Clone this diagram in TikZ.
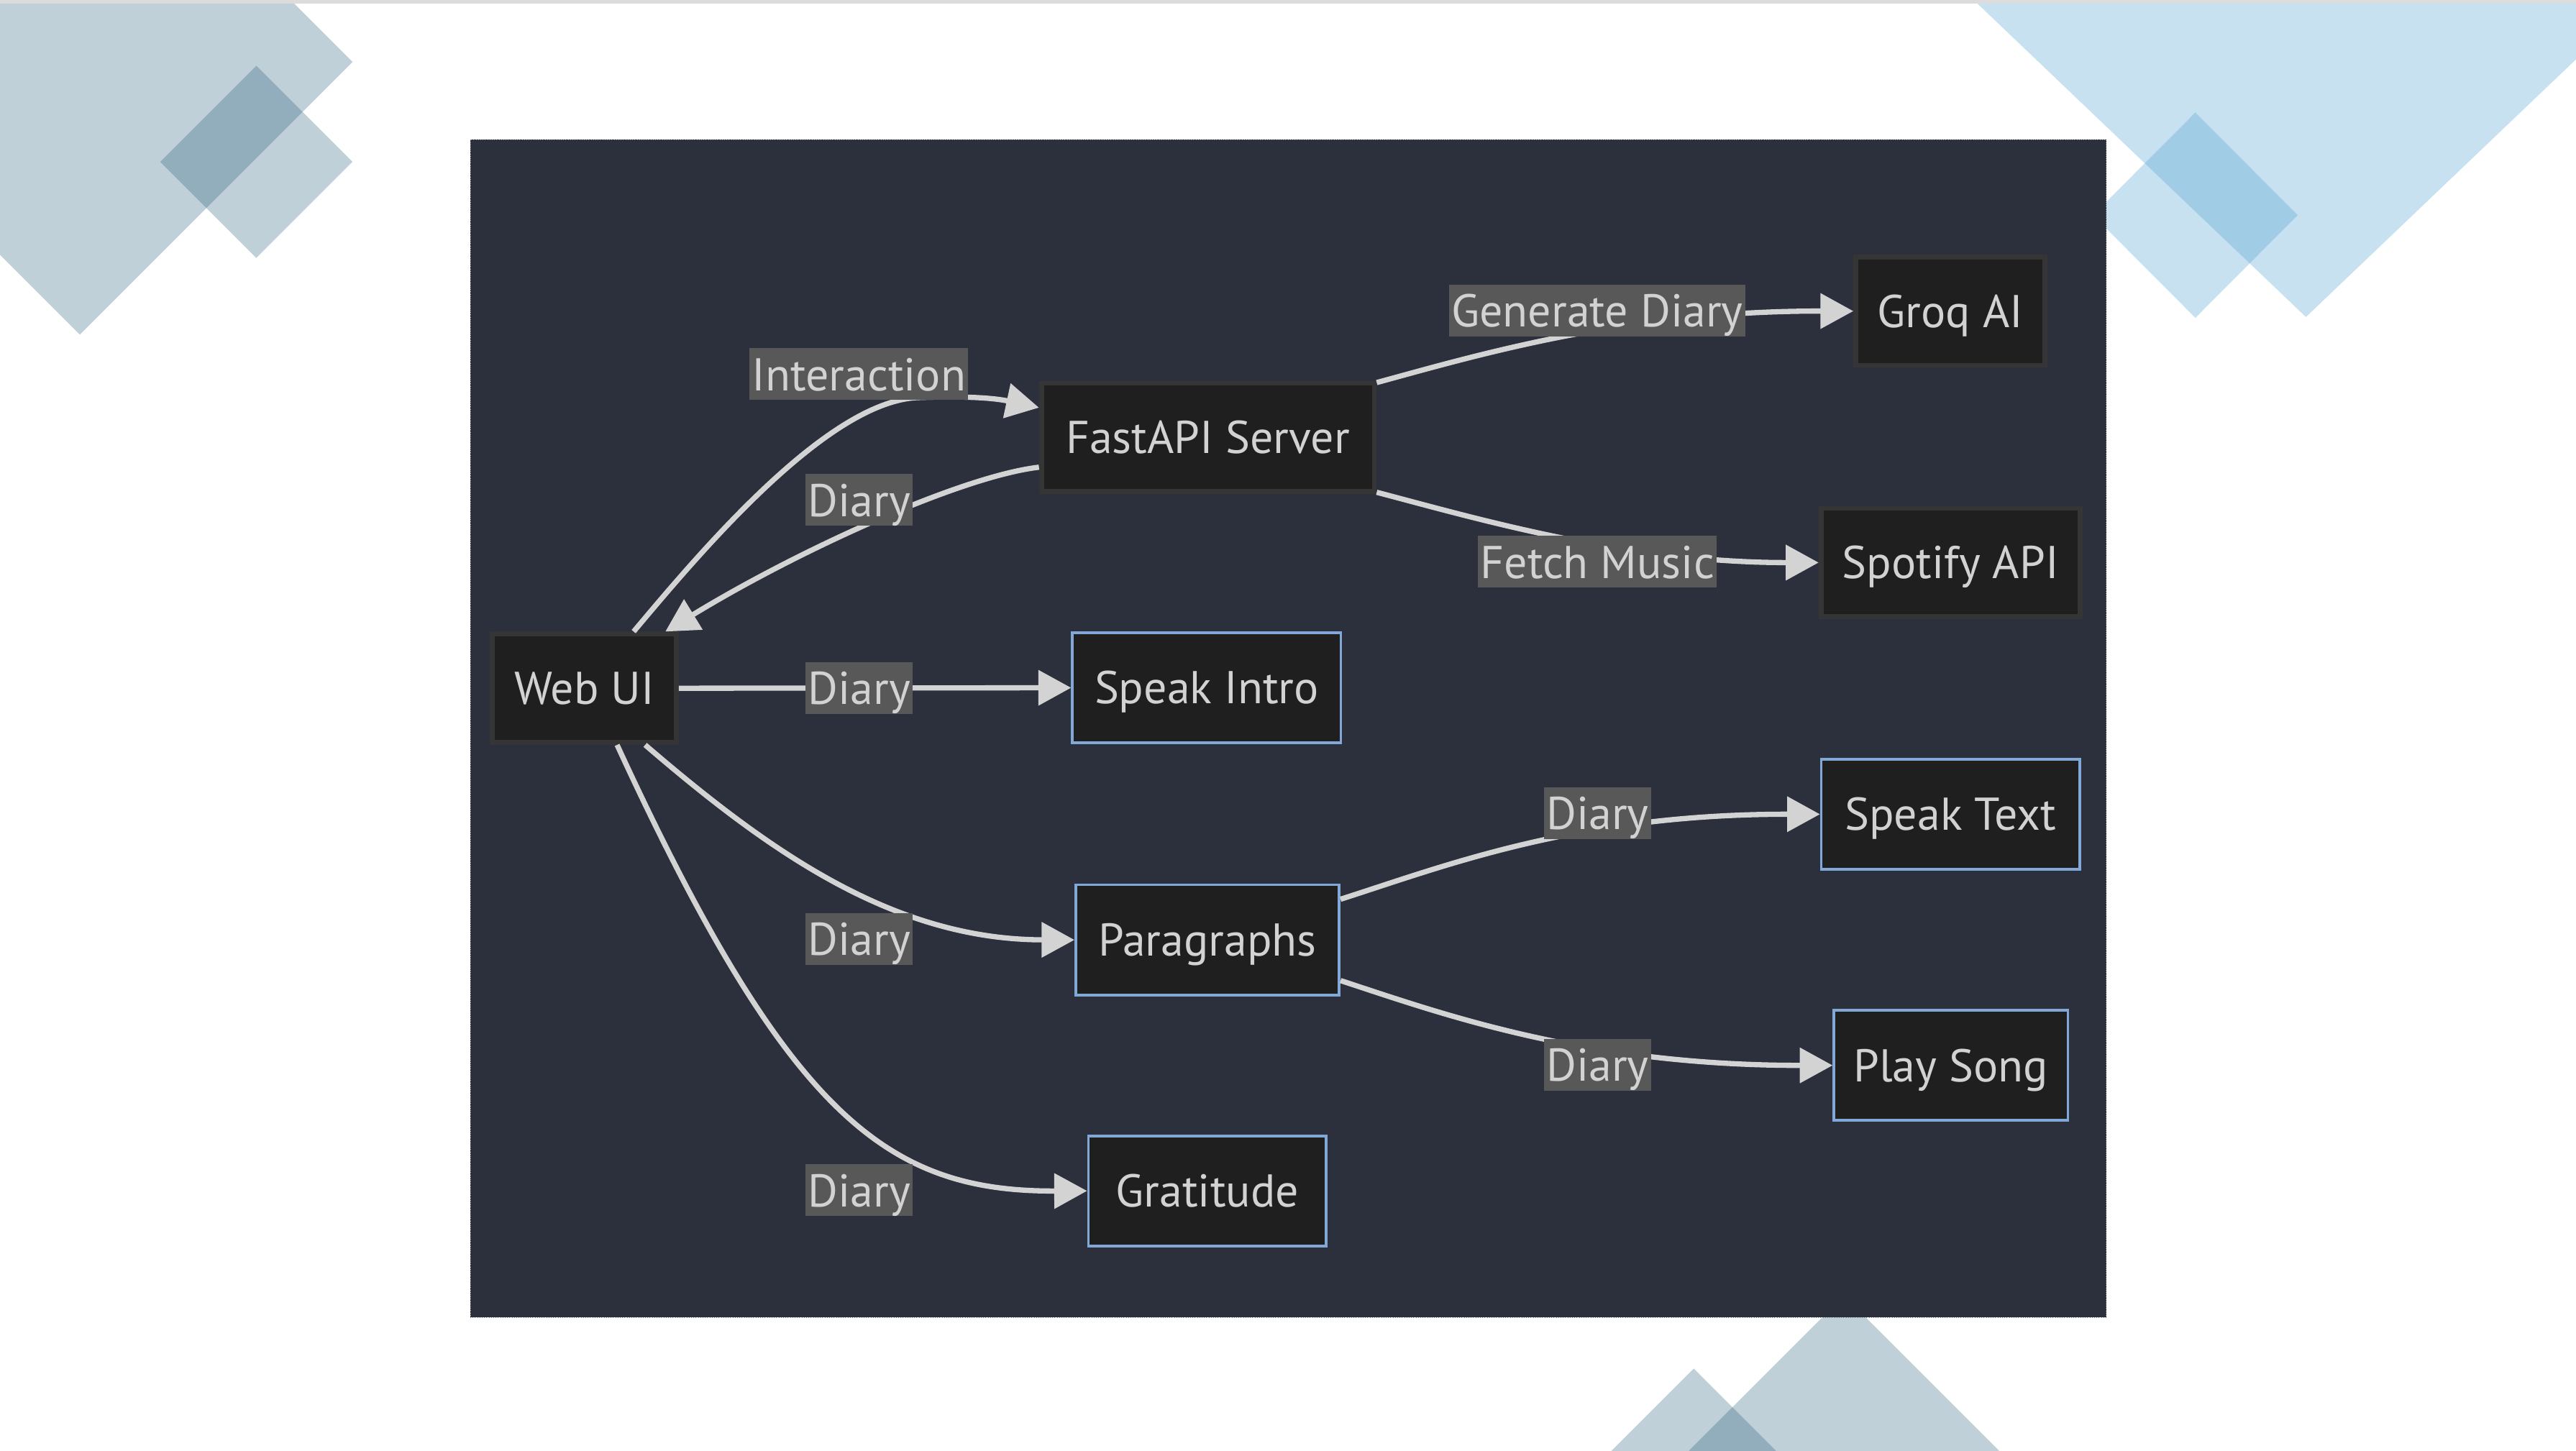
\documentclass[tikz,border=0pt]{standalone}
\usepackage{fontspec}
\setmainfont{PT Sans}
\usepackage{xcolor}
\usetikzlibrary{arrows.meta}
\definecolor{panelbg}{HTML}{2C303C}
\definecolor{panelrim}{HTML}{8A8A8A}
\definecolor{boxfill}{HTML}{1F1F1F}
\definecolor{boxline}{HTML}{353535}
\definecolor{boxblue}{HTML}{81A8D6}
\definecolor{boxtext}{HTML}{D2D2D2}
\definecolor{lblfill}{HTML}{585858}
\definecolor{edgecol}{HTML}{D3D3D3}
\definecolor{decogray}{HTML}{2A627D}
\definecolor{decoblue}{HTML}{489BCD}
\definecolor{topline}{HTML}{DCDCDC}
\newcommand*{\DiagFont}{\fontsize{28}{32}\selectfont}

\begin{document}
\begin{tikzpicture}[x=1pt, y=-1pt,
    box/.style={draw=boxline, line width=3pt, fill=boxfill, text=boxtext, font=\DiagFont,
        text height=19.6pt, text depth=0pt, inner xsep=2pt, minimum height=66pt},
    bluebox/.style={box, draw=boxblue, line width=1.6pt, minimum height=67pt},
    lbl/.style={fill=lblfill, text=boxtext, font=\DiagFont, inner xsep=1.5pt, inner ysep=0pt,
        text height=25.7pt, text depth=5.8pt},
    edge/.style={draw=edgecol, line width=3.2pt, -{Triangle[length=20pt,width=21pt]}}]
    \useasboundingbox (0,0) rectangle (1568,883);
    \begin{scope}
        \clip (0,0) rectangle (1568,883);
        \foreach \cx/\cy/\w/\h/\c in {48.6/37.7/166/166/decogray, 156/98.5/58.5/58.5/decogray,
                1403.6/-57/262/250/decoblue, 1336.3/131/62.3/62.5/decoblue,
                1122.4/938.8/150/150/decogray, 1031/893.2/60/60/decogray}
            \fill[\c, fill opacity=0.3] (\cx,\cy-\h) -- (\cx+\w,\cy) -- (\cx,\cy+\h) -- (\cx-\w,\cy) -- cycle;
    \end{scope}
    \fill[topline] (0,0) rectangle (1568,2.2);
    \fill[panelbg] (286.4,85.1) rectangle (1282.1,802);
    \draw[panelrim, line width=0.4pt, densely dotted] (286.4,85.1) rectangle (1282.1,802);

    \node[box, minimum width=112pt] (web) at (355.7,419) {Web UI};
    \node[box, minimum width=202.6pt] (fast) at (735.2,266.3) {FastAPI Server};
    \node[box, minimum width=115pt] (groq) at (1187.1,189.4) {Groq AI};
    \node[box, minimum width=157.6pt] (spot) at (1187.3,342.5) {Spotify API};
    \node[bluebox, minimum width=163.4pt] (intro) at (734.5,418.7) {Speak Intro};
    \node[bluebox, minimum width=160.4pt] (para) at (735,572.2) {Paragraphs};
    \node[bluebox, minimum width=144.8pt] (grat) at (734.9,725) {Gratitude};
    \node[bluebox, minimum width=157.2pt] (stext) at (1187.2,495.7) {Speak Text};
    \node[bluebox, minimum width=142.4pt] (song) at (1187.5,648.6) {Play Song};

    \draw[edge] (web.49) .. controls (428,334) and (505,243) .. (560,242) .. controls (590,241) and (606,242.5) .. (fast.170);
    \draw[edge] (fast.190) .. controls (585,290) and (486,335) .. (web.35);
    \draw[edge] (web.east) -- (intro.west);
    \draw[edge] (web.-43) .. controls (470,520) and (545,572) .. (para.west);
    \draw[edge] (web.-60) .. controls (480,680) and (540,725.5) .. (grat.west);
    \draw[edge] (fast.18) .. controls (900,216) and (990,189.2) .. (groq.west);
    \draw[edge] (fast.-18) .. controls (900,316) and (990,342.5) .. (spot.west);
    \draw[edge] (para.17) .. controls (880,527) and (960,495.6) .. (stext.west);
    \draw[edge] (para.-17) .. controls (880,618) and (965,648.6) .. (song.west);

    \node[lbl] (interact) at (522.8,227.8) {Interaction};
    \node[lbl] (back) at (523,304.4) {Diary};
    \node[lbl] (tointro) at (523,419) {Diary};
    \node[lbl] (topara) at (523,571.8) {Diary};
    \node[lbl] (tograt) at (523,724.6) {Diary};
    \node[lbl] (gen) at (972.2,189.1) {Generate Diary};
    \node[lbl] (fetch) at (972.3,342) {Fetch Music};
    \node[lbl] (tostext) at (972.5,495) {Diary};
    \node[lbl] (tosong) at (972.5,648.2) {Diary};
\end{tikzpicture}
\end{document}
